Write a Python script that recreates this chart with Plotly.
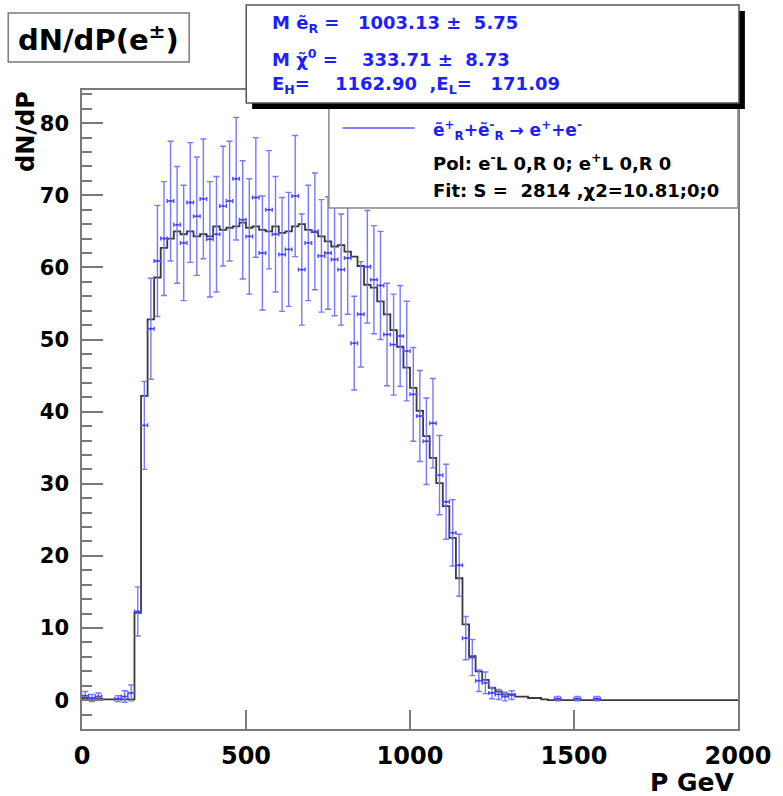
import plotly.graph_objects as go

# ---- data -------------------------------------------------------------
# Expected spectrum: 20 GeV bins, lower edges 0 ... 1980 GeV
bin_width = 20
hist_edges = list(range(0, 2001, bin_width))
hist_vals = [
    0.3, 0.2, 0.2, 0.1, 0.1, 0.1, 0.1, 0.1, 12.1, 42.2,
    52.8, 58.6, 62.7, 64.0, 65.0, 64.6, 65.0, 64.3, 64.6, 64.3,
    65.7, 65.2, 65.5, 65.7, 66.2, 65.5, 65.7, 65.2, 65.0, 65.7,
    64.8, 65.0, 65.7, 66.0, 65.2, 64.9, 64.3, 63.6, 62.9, 63.1,
    62.2, 61.5, 60.2, 57.6, 57.2, 55.3, 53.5, 51.3, 49.0, 46.1,
    43.3, 40.1, 36.6, 33.6, 30.1, 26.9, 22.5, 16.9, 10.5, 6.1,
    4.0, 2.8, 1.7, 1.2, 0.8, 0.8, 0.5, 0.5, 0.3, 0.3,
    0.1, 0.0, 0.0, 0.0, 0.0, 0.0, 0.0, 0.0, 0.0, 0.0,
    0.0, 0.0, 0.0, 0.0, 0.0, 0.0, 0.0, 0.0, 0.0, 0.0,
    0.0, 0.0, 0.0, 0.0, 0.0, 0.0, 0.0, 0.0, 0.0, 0.0,
]

# Simulated events: bin centre (GeV), dN/dP, statistical error
pt_p = [10, 30, 50, 110, 130, 150, 170, 190, 210, 230,
        250, 270, 290, 310, 330, 350, 370, 390, 410, 430,
        450, 470, 490, 510, 530, 550, 570, 590, 610, 630,
        650, 670, 690, 710, 730, 750, 770, 790, 810, 830,
        850, 870, 890, 910, 930, 950, 970, 990, 1010, 1030,
        1050, 1070, 1090, 1110, 1130, 1150, 1170, 1190, 1210, 1230,
        1250, 1270, 1290, 1310, 1450, 1510, 1570]
pt_val = [0.6, 0.3, 0.5, 0.2, 0.5, 1.0, 12.3, 38.1, 51.5, 60.9,
          64.0, 69.2, 65.9, 63.4, 69.0, 67.1, 69.5, 63.9, 64.6, 68.5,
          69.2, 72.3, 66.6, 64.3, 69.7, 62.0, 68.0, 64.6, 61.8, 62.5,
          69.9, 59.7, 63.4, 65.0, 61.6, 62.0, 61.1, 59.7, 61.3, 49.5,
          53.5, 60.1, 58.3, 57.5, 50.7, 49.3, 50.5, 48.4, 42.4, 39.4,
          35.9, 38.4, 31.2, 27.5, 23.2, 18.7, 8.6, 5.9, 2.7, 2.4,
          1.0, 0.8, 0.5, 0.7, 0.2, 0.2, 0.2]
pt_err = [0.6, 0.5, 0.5, 0.4, 0.8, 1.1, 3.4, 6.1, 7.0, 7.7,
          7.9, 8.3, 8.1, 8.0, 8.3, 8.2, 8.3, 8.0, 8.0, 8.3,
          8.3, 8.5, 8.2, 8.0, 8.3, 7.9, 8.2, 8.0, 7.9, 7.9,
          8.4, 7.7, 8.0, 8.1, 7.8, 7.8, 7.8, 7.7, 7.8, 6.5,
          7.3, 7.8, 7.5, 7.5, 7.1, 7.0, 7.0, 6.9, 6.5, 6.3,
          6.0, 6.2, 5.5, 5.2, 4.6, 4.3, 3.0, 2.5, 1.5, 1.5,
          0.8, 0.7, 0.6, 0.6, 0.3, 0.3, 0.3]

x_ticks = [0, 500, 1000, 1500, 2000]
y_ticks = [0, 10, 20, 30, 40, 50, 60, 70, 80]

# ---- page geometry (pixels) ------------------------------------------
W, H = 783, 796
L, R, T, B = 82, 749, 90, 729


def px(x):
    return (x - L) / (R - L)


def py(y):
    return (B - y) / (B - T)


FONT = "DejaVu Sans"
BLUE_TXT = "#1e1eff"
BAR = "#7878ff"
FRAME = "#7a7a7a"
NB = "\u00a0"

fig = go.Figure()

# expected distribution as a step histogram
fig.add_trace(go.Scatter(
    x=hist_edges, y=hist_vals + [hist_vals[-1]],
    mode="lines", line=dict(shape="hv", color="#3a3a3a", width=1.8),
    hoverinfo="skip", showlegend=False,
))

# events with error bars
fig.add_trace(go.Scatter(
    x=pt_p, y=pt_val, mode="markers",
    marker=dict(size=2, color="#3c3cff", symbol="square"),
    error_y=dict(type="data", array=pt_err, color=BAR, thickness=1.4, width=3),
    error_x=dict(type="constant", value=bin_width / 2, color="#4a4aff",
                 thickness=1.4, width=2),
    showlegend=False,
))

fig.update_layout(
    width=W, height=H,
    margin=dict(l=L, r=W - R, t=T, b=H - B, pad=0),
    paper_bgcolor="white", plot_bgcolor="white",
    showlegend=False,
    font=dict(family=FONT, color="black"),
    xaxis=dict(
        range=[0, 2000], tickvals=x_ticks, ticktext=[str(v) for v in x_ticks],
        ticks="inside", ticklen=19, tickwidth=1.5, tickcolor=FRAME,
        showline=True, linecolor=FRAME, linewidth=1.5, mirror=True,
        showgrid=False, zeroline=False,
        tickfont=dict(family=FONT, size=24, weight="bold", color="black"),
        ticklabelstandoff=4,
    ),
    yaxis=dict(
        range=[-4.0, 84.6], tickvals=y_ticks, ticktext=[str(v) for v in y_ticks],
        ticks="inside", ticklen=21, tickwidth=1.5, tickcolor=FRAME,
        minor=dict(dtick=2, tick0=0, ticks="inside", ticklen=10,
                   tickwidth=1.5, tickcolor=FRAME, showgrid=False),
        showline=True, linecolor=FRAME, linewidth=1.5, mirror=True,
        showgrid=False, zeroline=False,
        tickfont=dict(family=FONT, size=21, weight="bold", color="black"),
        ticklabelstandoff=7,
    ),
)

shapes = []
# legend panel
shapes.append(dict(type="rect", xref="paper", yref="paper",
                   x0=px(333), x1=px(749), y0=py(208), y1=py(106),
                   fillcolor="white", line=dict(color="#8a8a8a", width=1.5),
                   layer="above"))
shapes.append(dict(type="line", xref="paper", yref="paper",
                   x0=px(347), x1=px(420), y0=py(128), y1=py(128),
                   line=dict(color="#5a5aff", width=1.5), layer="above"))
# fit-result panel with drop shadow
shapes.append(dict(type="rect", xref="paper", yref="paper",
                   x0=px(255), x1=px(756), y0=py(109), y1=py(11),
                   fillcolor="black", line=dict(width=0), layer="above"))
shapes.append(dict(type="rect", xref="paper", yref="paper",
                   x0=px(249), x1=px(750), y0=py(103), y1=py(5),
                   fillcolor="white", line=dict(color="#555555", width=1.5),
                   layer="above"))
# title panel
shapes.append(dict(type="rect", xref="paper", yref="paper",
                   x0=px(7), x1=px(191), y0=py(62), y1=py(13),
                   fillcolor="white", line=dict(color=FRAME, width=1.5),
                   layer="above"))
fig.update_layout(shapes=shapes)


def note(text, x, y, size, color="black", xanchor="left", angle=0):
    fig.add_annotation(
        text=text, xref="paper", yref="paper", x=px(x), y=py(y),
        xanchor=xanchor, yanchor="middle", showarrow=False, textangle=angle,
        font=dict(family=FONT, size=size, color=color, weight="bold"),
    )


# title
note("dN/dP(e<sup>±</sup>)", 99, 38, 29, xanchor="center")

# fit results
note("M ẽ<sub>R</sub> =", 273, 24, 18, BLUE_TXT)
note("1003.13 ±" + NB * 2 + "5.75", 361, 22, 18, BLUE_TXT)
note("M χ\u0303<sup>0</sup> =", 273, 58, 18, BLUE_TXT)
note("333.71 ±" + NB * 2 + "8.73", 365, 60, 18, BLUE_TXT)
note("E<sub>H</sub>=", 273, 85, 18, BLUE_TXT)
note("1162.90" + NB * 2 + ",E<sub>L</sub>=" + NB * 3 + "171.09", 337, 85, 18, BLUE_TXT)

# legend entries
note("ẽ<sup>+</sup><sub>R</sub>+ẽ<sup>-</sup><sub>R</sub> → e<sup>+</sup>+e<sup>-</sup>",
     437, 130, 17, BLUE_TXT)
note("Pol: e<sup>-</sup>L 0,R 0; e<sup>+</sup>L 0,R 0", 437, 162, 18)
note("Fit: S =" + NB * 2 + "2814 ,χ2=10.81;0;0", 437, 190, 18)

# axis titles
note("dN/dP", 25, 131, 24, xanchor="center", angle=-90)
note("P GeV", 748, 782, 25, xanchor="right")

fig.write_html("out.html")
